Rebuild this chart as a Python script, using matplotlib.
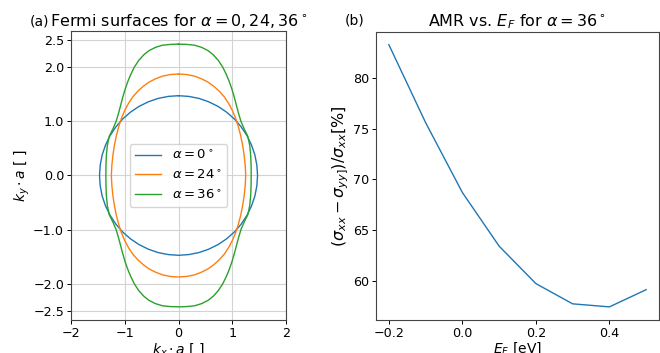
"""Fermi surfaces for three tilt angles and AMR vs. Fermi energy."""

import numpy as np
import matplotlib
matplotlib.use("Agg")
import matplotlib.pyplot as plt

# first-quadrant points of each Fermi surface (kx*a, ky*a)
blue_kx = [0.00, 0.19, 0.38, 0.56, 0.735, 0.895, 1.04, 1.166, 1.273, 1.358, 1.42, 1.457, 1.47]
blue_ky = [1.47, 1.457, 1.42, 1.358, 1.273, 1.166, 1.04, 0.895, 0.735, 0.56, 0.38, 0.19, 0.00]

orange_kx = [0.00, 0.15, 0.30, 0.43, 0.55, 0.66, 0.76, 0.85, 0.93, 1.00, 1.06,
             1.11, 1.155, 1.19, 1.22, 1.24, 1.25]
orange_ky = [1.87, 1.86, 1.83, 1.78, 1.72, 1.64, 1.55, 1.45, 1.33, 1.20, 1.06,
             0.91, 0.74, 0.57, 0.38, 0.19, 0.00]

green_kx = [0.00, 0.15, 0.30, 0.43, 0.55, 0.65, 0.74, 0.82, 0.885, 0.94, 0.99,
            1.035, 1.075, 1.115, 1.16, 1.22, 1.29, 1.325, 1.343, 1.35, 1.352]
green_ky = [2.42, 2.415, 2.40, 2.36, 2.30, 2.22, 2.12, 2.00, 1.87, 1.74, 1.60,
            1.45, 1.30, 1.15, 1.00, 0.86, 0.72, 0.55, 0.36, 0.18, 0.00]

angle_labels = [r"$\alpha = 0^\circ$", r"$\alpha = 24^\circ$", r"$\alpha = 36^\circ$"]

# AMR for alpha = 36 deg
ef = [-0.2, -0.1, 0.0, 0.1, 0.2, 0.3, 0.4, 0.5]
amr = [83.3, 75.6, 68.7, 63.4, 59.7, 57.7, 57.4, 59.1]

x_ticks = [-2, -1, 0, 1, 2]
y_ticks = [-2.5, -2.0, -1.0, 0.0, 1.0, 2.0, 2.5]


def full_contour(qx, qy):
    # mirror the first quadrant into a closed curve
    qx = np.asarray(qx)
    qy = np.asarray(qy)
    xs = np.concatenate([qx, qx[::-1], -qx, -qx[::-1]])
    ys = np.concatenate([qy, -qy[::-1], -qy, qy[::-1]])
    return xs, ys


fig = plt.figure(figsize=(6.6, 3.53), dpi=100)
fig.patch.set_facecolor("white")

ax1 = fig.add_axes([0.1076, 0.0935, 0.3258, 0.8187])
ax2 = fig.add_axes([0.5697, 0.0935, 0.4288, 0.8170])

colors = ["tab:blue", "tab:orange", "tab:green"]
curves = [(blue_kx, blue_ky), (orange_kx, orange_ky), (green_kx, green_ky)]
for (qx, qy), c, lab in zip(curves, colors, angle_labels):
    xs, ys = full_contour(qx, qy)
    ax1.plot(xs, ys, color=c, lw=1.0, label=lab)

ax1.set_xlim(-2, 2)
ax1.set_xticks(x_ticks)
ax1.set_yticks(y_ticks)
ax1.set_yticklabels([f"{v:.1f}".replace("-", "\u2212") for v in y_ticks])
ax1.grid(True, color="#d3d3d3", lw=0.8)
ax1.set_axisbelow(True)
ax1.set_xlabel(r"$k_x \cdot a$ [ ]", fontsize=10, labelpad=1)
ax1.set_ylabel(r"$k_y \cdot a$ [ ]", fontsize=10, labelpad=1)
ax1.set_title(r"Fermi surfaces for $\alpha = 0, 24, 36^\circ$", fontsize=11.5, pad=3.5)
ax1.legend(loc="center", fontsize=9.5, handlelength=2.0)

ax2.plot(ef, amr, color="tab:blue", lw=1.0)
ax2.set_xticks([-0.2, 0.0, 0.2, 0.4])
ax2.set_xlabel(r"$E_F$ [eV]", fontsize=10, labelpad=0)
ax2.set_ylabel(r"$(\sigma_{xx} - \sigma_{yy]})/\sigma_{xx} [\%]$", fontsize=11.5, labelpad=1.5)
ax2.set_title(r"AMR vs. $E_F$ for $\alpha = 36^\circ$", fontsize=11.5, pad=3.5)

for ax in (ax1, ax2):
    ax.tick_params(labelsize=9.2, length=2.8, width=0.7, pad=2.2)
    for spine in ax.spines.values():
        spine.set_linewidth(0.8)
        spine.set_edgecolor("#444444")

fig.text(0.045, 0.928, "(a)", fontsize=10, va="baseline")
fig.text(0.522, 0.932, "(b)", fontsize=10, va="baseline")

fig.savefig("out.png", dpi=100, facecolor="white")
